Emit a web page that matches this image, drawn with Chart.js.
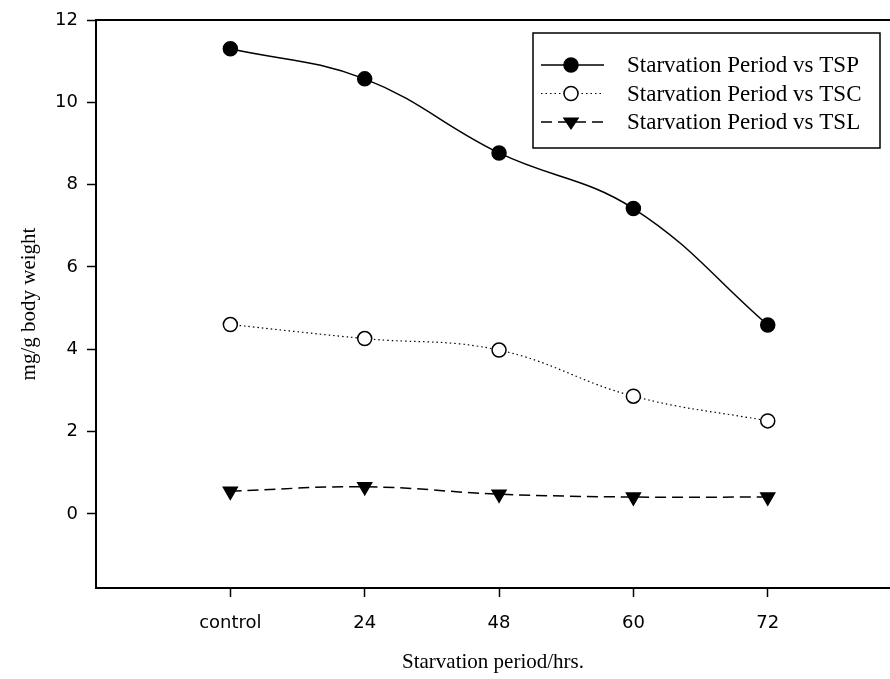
<!DOCTYPE html>
<html>
<head>
<meta charset="utf-8">
<script src="https://cdn.jsdelivr.net/npm/chart.js@4/dist/chart.umd.min.js"></script>
<style>
  html, body { margin: 0; padding: 0; background: #fff; }
  #wrap { width: 890px; height: 679px; }
</style>
</head>
<body>
<div id="wrap"><canvas id="starve" width="890" height="679"></canvas></div>
<script>
// data
const periods = ['control', '24', '48', '60', '72'];
const tsp = [11.3, 10.57, 8.77, 7.42, 4.59];
const tsc = [4.6, 4.26, 3.98, 2.86, 2.26];
const tsl = [0.55, 0.66, 0.48, 0.41, 0.41];
const yTicks = [0, 2, 4, 6, 8, 10, 12];

const serif = "'Liberation Serif', 'Times New Roman', serif";
const sans = "'DejaVu Sans', Arial, sans-serif";

function pts(vals) {
  return vals.map((v, i) => ({ x: i, y: v }));
}

// top border of plot box + legend box inside the plot
const frameAndLegend = {
  id: 'frameAndLegend',
  afterDatasetsDraw(chart) {
    const ctx = chart.ctx;
    const area = chart.chartArea;
    ctx.save();
    ctx.strokeStyle = '#000';
    ctx.lineWidth = 2;
    ctx.beginPath();
    ctx.moveTo(area.left, area.top);
    ctx.lineTo(area.right, area.top);
    ctx.stroke();

    // legend
    const bx = 533, by = 33, bw = 347, bh = 115;
    ctx.lineWidth = 1.5;
    ctx.strokeRect(bx, by, bw, bh);
    ctx.font = '23px ' + serif;
    ctx.fillStyle = '#000';
    ctx.textBaseline = 'middle';
    chart.data.datasets.forEach((ds, i) => {
      const y = 65 + i * 28.5;
      ctx.save();
      ctx.setLineDash(ds.borderDash || []);
      ctx.lineWidth = ds.borderWidth;
      ctx.beginPath();
      ctx.moveTo(541, y);
      ctx.lineTo(604, y);
      ctx.stroke();
      ctx.restore();
      const mx = 571, r = 7;
      ctx.beginPath();
      if (ds.pointStyle === 'triangle') {
        ctx.moveTo(mx - r, y - r * 0.55);
        ctx.lineTo(mx + r, y - r * 0.55);
        ctx.lineTo(mx, y + r * 0.95);
        ctx.closePath();
      } else {
        ctx.arc(mx, y, r, 0, Math.PI * 2);
      }
      ctx.fillStyle = ds.pointBackgroundColor;
      ctx.fill();
      ctx.lineWidth = 1.5;
      ctx.stroke();
      ctx.fillStyle = '#000';
      ctx.fillText(ds.label, 627, y + 1);
    });
    ctx.restore();
  }
};

const ctx = document.getElementById('starve').getContext('2d');
new Chart(ctx, {
  type: 'line',
  data: {
    datasets: [
      {
        label: 'Starvation Period vs TSP',
        data: pts(tsp),
        borderColor: '#000',
        borderWidth: 1.5,
        pointStyle: 'circle',
        pointRadius: 7,
        pointBackgroundColor: '#000',
        pointBorderColor: '#000',
        tension: 0.4
      },
      {
        label: 'Starvation Period vs TSC',
        data: pts(tsc),
        borderColor: '#000',
        borderWidth: 1.2,
        borderDash: [1.5, 3],
        pointStyle: 'circle',
        pointRadius: 7,
        pointBorderWidth: 1.5,
        pointBackgroundColor: '#fff',
        pointBorderColor: '#000',
        tension: 0.4
      },
      {
        label: 'Starvation Period vs TSL',
        data: pts(tsl),
        borderColor: '#000',
        borderWidth: 1.5,
        borderDash: [11, 6],
        pointStyle: 'triangle',
        rotation: 180,
        pointRadius: 8,
        pointBackgroundColor: '#000',
        pointBorderColor: '#000',
        tension: 0.4
      }
    ]
  },
  options: {
    responsive: false,
    animation: false,
    layout: { autoPadding: false, padding: { top: 20, left: 0, right: 0, bottom: 0 } },
    plugins: {
      legend: { display: false },
      tooltip: { enabled: false }
    },
    scales: {
      x: {
        type: 'linear',
        min: -1,
        max: 4.91,
        afterBuildTicks(scale) {
          scale.ticks = periods.map((p, i) => ({ value: i }));
        },
        afterFit(scale) {
          scale.height = 91;
          scale.paddingRight = 0;
          scale.paddingLeft = 0;
        },
        ticks: {
          callback: (v) => periods[v],
          color: '#000',
          font: { family: sans, size: 18 },
          padding: 16,
          maxRotation: 0,
          autoSkip: false
        },
        grid: {
          drawOnChartArea: false,
          drawTicks: true,
          tickLength: 9,
          tickWidth: 1.5,
          color: '#000'
        },
        border: { display: true, color: '#000', width: 2 },
        title: {
          display: true,
          text: 'Starvation period/hrs.',
          color: '#000',
          font: { family: serif, size: 21 },
          padding: { top: 0, bottom: 4 }
        }
      },
      y: {
        min: -1.8,
        max: 12,
        afterBuildTicks(scale) {
          scale.ticks = yTicks.map(v => ({ value: v }));
        },
        afterFit(scale) { scale.width = 96; },
        ticks: {
          color: '#000',
          font: { family: sans, size: 18 },
          padding: 9
        },
        grid: {
          drawOnChartArea: false,
          drawTicks: true,
          tickLength: 9,
          tickWidth: 1.5,
          color: '#000'
        },
        border: { display: true, color: '#000', width: 2 },
        title: {
          display: true,
          text: 'mg/g body weight',
          color: '#000',
          font: { family: serif, size: 21 },
          padding: { top: 17, bottom: 0 }
        }
      }
    }
  },
  plugins: [frameAndLegend]
});
</script>
</body>
</html>
